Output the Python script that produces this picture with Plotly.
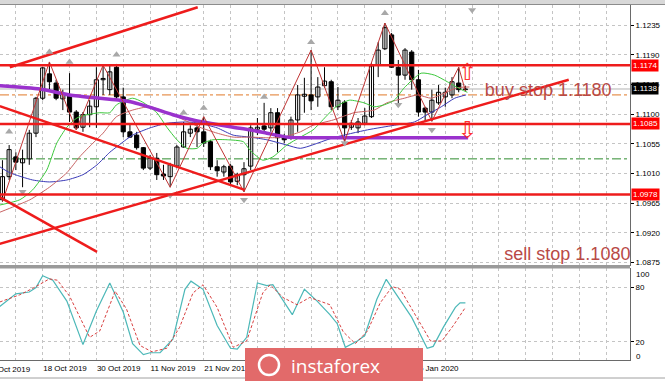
import plotly.graph_objects as go

# ---------------- data ----------------
bars = list(range(70))
opens = [1.0970, 1.1005, 1.1035, 1.1026, 1.1032, 1.1071, 1.1124, 1.1161, 1.1147, 1.1123,
         1.1129, 1.1103, 1.1080, 1.1099, 1.1111, 1.1152, 1.1137, 1.1171, 1.1126, 1.1073,
         1.1068, 1.1049, 1.1018, 1.1033, 1.1009, 1.1005, 1.1021, 1.1050, 1.1071, 1.1079,
         1.1073, 1.1058, 1.1020, 1.1012, 1.1021, 1.0998, 1.1008, 1.1021, 1.1077, 1.1082,
         1.1079, 1.1102, 1.1065, 1.1064, 1.1091, 1.1127, 1.1129, 1.1126, 1.1143, 1.1149,
         1.1111, 1.1118, 1.1080, 1.1079, 1.1086, 1.1096, 1.1174, 1.1199, 1.1220, 1.1171,
         1.1159, 1.1194, 1.1152, 1.1109, 1.1103, 1.1117, 1.1126, 1.1129, 1.1147, 1.1137]
highs = [1.1030, 1.1053, 1.1042, 1.1046, 1.1076, 1.1126, 1.1171, 1.1179, 1.1152, 1.1137,
         1.1162, 1.1106, 1.1103, 1.1121, 1.1171, 1.1174, 1.1174, 1.1176, 1.1140, 1.1086,
         1.1073, 1.1050, 1.1038, 1.1041, 1.1023, 1.1026, 1.1053, 1.1088, 1.1083, 1.1086,
         1.1096, 1.1061, 1.1030, 1.1023, 1.1024, 1.1011, 1.1027, 1.1083, 1.1094, 1.1117,
         1.1109, 1.1109, 1.1070, 1.1096, 1.1144, 1.1155, 1.1197, 1.1156, 1.1171, 1.1152,
         1.1141, 1.1121, 1.1091, 1.1094, 1.1109, 1.1177, 1.1209, 1.1238, 1.1223, 1.1182,
         1.1200, 1.1197, 1.1167, 1.1111, 1.1137, 1.1144, 1.1140, 1.1156, 1.1171, 1.1143]
lows = [1.0967, 1.1000, 1.1015, 1.0989, 1.1023, 1.1065, 1.1121, 1.1137, 1.1121, 1.1106,
        1.1088, 1.1076, 1.1073, 1.1080, 1.1079, 1.1129, 1.1129, 1.1121, 1.1065, 1.1064,
        1.1046, 1.1015, 1.1015, 1.1000, 1.1000, 1.0989, 1.1018, 1.1049, 1.1065, 1.1050,
        1.1050, 1.1015, 1.1005, 1.1005, 1.0992, 1.0992, 1.0982, 1.1015, 1.1068, 1.1071,
        1.1073, 1.1042, 1.1056, 1.1061, 1.1073, 1.1102, 1.1106, 1.1111, 1.1140, 1.1106,
        1.1106, 1.1058, 1.1076, 1.1071, 1.1083, 1.1094, 1.1156, 1.1197, 1.1170, 1.1111,
        1.1152, 1.1137, 1.1096, 1.1088, 1.1089, 1.1114, 1.1111, 1.1124, 1.1133, 1.1135]
closes = [1.1005, 1.1046, 1.1027, 1.1032, 1.1071, 1.1124, 1.1170, 1.1149, 1.1124, 1.1130,
          1.1103, 1.1079, 1.1099, 1.1112, 1.1152, 1.1154, 1.1164, 1.1126, 1.1073, 1.1065,
          1.1049, 1.1018, 1.1033, 1.1008, 1.1006, 1.1023, 1.1050, 1.1073, 1.1077, 1.1073,
          1.1056, 1.1020, 1.1014, 1.1020, 1.0997, 1.1008, 1.1017, 1.1079, 1.1080, 1.1077,
          1.1102, 1.1064, 1.1061, 1.1091, 1.1129, 1.1130, 1.1120, 1.1141, 1.1150, 1.1111,
          1.1121, 1.1079, 1.1086, 1.1088, 1.1097, 1.1173, 1.1197, 1.1231, 1.1171, 1.1159,
          1.1197, 1.1152, 1.1103, 1.1103, 1.1121, 1.1133, 1.1133, 1.1149, 1.1137, 1.1138]

# moving averages (bar position, price)
ma_purple_x = [-0.4, 5.6, 10.0, 14.5, 17.5, 19.4, 22.4, 25.4, 28.4, 30.9, 34.4, 36.9, 39.4, 42.4, 44.4, 51.8, 59.3, 69.4]
ma_purple_y = [1.1143, 1.1138, 1.1129, 1.1124, 1.1121, 1.1118, 1.1109, 1.1099, 1.1091, 1.1086, 1.1080, 1.1076, 1.1071, 1.1065, 1.1064, 1.1064, 1.1064, 1.1064]

ma_green_x = [-0.4, 2.6, 4.5, 6.6, 8.1, 9.6, 11.1, 12.6, 14.5, 16.0, 17.0, 19.4, 20.9, 23.0, 24.5, 26.0, 27.5, 29.0, 29.9,
              31.4, 33.5, 35.9, 36.9, 38.8, 40.3, 42.4, 44.4, 46.3, 48.2, 49.7, 51.7, 53.9, 55.4, 56.9, 58.4, 59.9,
              62.4, 64.4, 66.3, 68.4, 69.3]
ma_green_y = [1.0962, 1.0970, 1.0985, 1.1015, 1.1056, 1.1080, 1.1094, 1.1099, 1.1102, 1.1102, 1.1114, 1.1124, 1.1118,
              1.1102, 1.1080, 1.1061, 1.1048, 1.1048, 1.1056, 1.1061, 1.1061, 1.1058, 1.1045, 1.1030, 1.1035, 1.1053,
              1.1065, 1.1076, 1.1096, 1.1111, 1.1121, 1.1117, 1.1111, 1.1114, 1.1121, 1.1140, 1.1162, 1.1159, 1.1149,
              1.1137, 1.1133]

ma_brown_x = [-0.4, 1.8, 4.1, 7.0, 9.6, 11.5, 13.5, 15.0, 17.0, 19.4, 22.0, 26.0, 29.4, 32.0, 34.4, 36.9, 39.4, 41.8,
              44.4, 46.3, 49.3, 52.4, 55.4, 57.3, 59.9, 61.9, 63.9, 65.9, 67.8, 69.6]
ma_brown_y = [1.0951, 1.0960, 1.0970, 1.0989, 1.1011, 1.1035, 1.1056, 1.1071, 1.1096, 1.1106, 1.1111, 1.1096, 1.1080,
              1.1071, 1.1065, 1.1065, 1.1064, 1.1065, 1.1073, 1.1083, 1.1091, 1.1102, 1.1106, 1.1117, 1.1124, 1.1129,
              1.1124, 1.1132, 1.1140, 1.1141]

ma_blue_x = [-0.4, 1.1, 4.5, 7.0, 9.6, 12.0, 14.1, 16.0, 17.0, 19.4, 22.0, 24.5, 27.5, 29.4, 32.0, 34.4, 36.9, 39.4,
             42.4, 44.4, 49.3, 54.4, 58.4, 61.4, 63.3, 65.4, 67.4, 69.1]
ma_blue_y = [1.1020, 1.1011, 1.1000, 1.0997, 1.1000, 1.1008, 1.1023, 1.1042, 1.1050, 1.1068, 1.1079, 1.1086, 1.1088,
             1.1086, 1.1079, 1.1068, 1.1065, 1.1061, 1.1053, 1.1048, 1.1064, 1.1076, 1.1083, 1.1088, 1.1099, 1.1111,
             1.1124, 1.1129]

# zigzag vertices
zigzag_x = [0, 7, 11, 15, 25, 30, 36, 46, 51, 57, 64, 68, 69]
zigzag_y = [1.0967, 1.1179, 1.1076, 1.1174, 1.0989, 1.1096, 1.0982, 1.1197, 1.1058, 1.1238, 1.1089, 1.1171, 1.1135]

# fractal arrows
frac_up_x = [1, 7, 10, 17, 27, 30, 39, 46, 57]
frac_up_y = [1.1073, 1.1194, 1.1179, 1.1190, 1.1102, 1.1109, 1.1126, 1.1209, 1.1253]
frac_dn_x = [3, 25, 36, 51, 59, 64, 70]
frac_dn_y = [1.0982, 1.0977, 1.0970, 1.1056, 1.1114, 1.1076, 1.1258]

# levels and trend lines
levels_red = [1.1174, 1.1085, 1.0978]
current_price = 1.1138
level_orange = 1.1129
level_green = 1.1032
trend_lines = [  # (bar0, price0, bar1, price1)
    (1.1, 1.1171, 29.1, 1.1262),
    (-0.4, 1.1112, 36.1, 1.0985),
    (-0.4, 1.0903, 84.4, 1.1152),
    (-0.4, 1.0974, 14.1, 1.0891),
]
buy_text = "buy stop 1.1180"
sell_text = "sell stop 1.1080"
buy_pos = (71.9, 1.11345)
sell_pos = (74.8, 1.0886)
arrow_bar = 69.3
arrow_up_price = 1.1160
arrow_dn_price = 1.1072

# stochastic (bar position, value)
stoch_main_x = [-0.4, 2, 4, 5, 6, 7.5, 9.6, 12, 14, 16, 18, 19.4, 21, 22, 23.5, 25.4, 27.2, 28.1, 29.9, 32, 34, 35,
                36.4, 38, 39.4, 40.3, 43.2, 45, 46.9, 48.8, 49.9, 51.1, 52.9, 54, 55.8, 57.2, 61, 63.3, 64.2, 65.7,
                67.5, 68.2, 69]
stoch_main_y = [59, 73, 75, 80, 93, 88, 65, 17, 54, 85, 53, 18, 6, 8, 8, 23, 78, 87, 78, 38, 13, 12, 25, 85, 82, 83,
                50, 78, 65, 50, 40, 14, 21, 27, 67, 89, 47, 13, 15, 36, 58, 63, 63]
stoch_sig_x = [-0.4, 2.6, 4.5, 7.0, 8.2, 10.0, 13.0, 14.5, 16.8, 18.5, 20.5, 22.3, 24.5, 26.4, 28.4, 29.9, 32.0, 34.4,
               36.4, 38.8, 39.9, 41.8, 43.9, 45.8, 48.8, 50.8, 52.6, 54.4, 56.3, 58.1, 59.3, 61.5, 63.8, 65.5, 67.2, 69.0]
stoch_sig_y = [64, 72, 79, 89.5, 88, 70.5, 25, 32, 76, 56, 16, 9, 13, 36, 74, 83, 58, 14, 21, 74, 83, 69, 61, 69, 61,
               31, 18, 32, 63, 81, 78, 50, 21, 21, 38, 58]

price_ticks = [1.0875, 1.0920, 1.0965, 1.1010, 1.1055, 1.1100, 1.1145, 1.1190, 1.1235]
date_tick_bars = [6, 14, 22, 30, 38, 46, 54, 62]
date_tick_text = ["18 Oct 2019", "30 Oct 2019", "11 Nov 2019", "21 Nov 2019",
                  "3 Dec 2019", "13 Dec 2019", "25 Dec 2019", "6 Jan 2020"]

# ---------------- figure ----------------
X_RANGE = [-0.364, 93.53]
Y_RANGE = [1.08695, 1.12654]
GRID = "#c4c4c4"
FONT = "Liberation Sans"

fig = go.Figure()

# candle wicks
wx, wy = [], []
for i, h, l in zip(bars, highs, lows):
    wx += [i, i, None]
    wy += [l, h, None]
fig.add_trace(go.Scatter(x=wx, y=wy, mode="lines", line=dict(color="black", width=1),
                         hoverinfo="skip", xaxis="x", yaxis="y"))

bull = [i for i in bars if closes[i] >= opens[i]]
bear = [i for i in bars if closes[i] < opens[i]]
fig.add_trace(go.Bar(x=bull, base=[opens[i] for i in bull],
                     y=[max(closes[i] - opens[i], 0.00002) for i in bull], width=0.62,
                     marker=dict(color="white", line=dict(color="black", width=1)),
                     xaxis="x", yaxis="y", hoverinfo="skip"))
fig.add_trace(go.Bar(x=bear, base=[closes[i] for i in bear],
                     y=[opens[i] - closes[i] for i in bear], width=0.62,
                     marker=dict(color="black", line=dict(color="black", width=1)),
                     xaxis="x", yaxis="y", hoverinfo="skip"))

# moving averages
for xs, ys, col, w in [(ma_blue_x, ma_blue_y, "#3a3ab8", 1),
                       (ma_brown_x, ma_brown_y, "#c86464", 1),
                       (ma_green_x, ma_green_y, "#3cc83c", 1),
                       (ma_purple_x, ma_purple_y, "#9a32cd", 3.5)]:
    fig.add_trace(go.Scatter(x=xs, y=ys, mode="lines", line=dict(color=col, width=w, shape="spline", smoothing=0.6),
                             hoverinfo="skip", xaxis="x", yaxis="y"))

# zigzag
fig.add_trace(go.Scatter(x=zigzag_x, y=zigzag_y, mode="lines", line=dict(color="#c03434", width=1),
                         hoverinfo="skip", xaxis="x", yaxis="y"))

# trend lines
for b0, p0, b1, p1 in trend_lines:
    fig.add_trace(go.Scatter(x=[b0, b1], y=[p0, p1], mode="lines", line=dict(color="#ee1c1c", width=2.5),
                             hoverinfo="skip", xaxis="x", yaxis="y"))

# fractals
fig.add_trace(go.Scatter(x=frac_up_x, y=frac_up_y, mode="markers",
                         marker=dict(symbol="triangle-up", size=7, color="#a8a8a8"),
                         hoverinfo="skip", xaxis="x", yaxis="y"))
fig.add_trace(go.Scatter(x=frac_dn_x, y=frac_dn_y, mode="markers",
                         marker=dict(symbol="triangle-down", size=7, color="#a8a8a8"),
                         hoverinfo="skip", xaxis="x", yaxis="y"))

# buy / sell stop arrows and texts
fig.add_trace(go.Scatter(x=[arrow_bar, arrow_bar], y=[arrow_up_price, arrow_dn_price], mode="text",
                         text=["⇧", "⇩"], textfont=dict(color="#ff3030", size=23, family="DejaVu Sans"),
                         hoverinfo="skip", xaxis="x", yaxis="y"))
fig.add_trace(go.Scatter(x=[buy_pos[0], sell_pos[0]], y=[buy_pos[1], sell_pos[1]], mode="text",
                         text=[buy_text, sell_text], textposition="middle right", cliponaxis=True,
                         textfont=dict(color="#b94a46", size=18, family=FONT),
                         hoverinfo="skip", xaxis="x", yaxis="y"))

# stochastic
fig.add_trace(go.Scatter(x=stoch_main_x, y=stoch_main_y, mode="lines", line=dict(color="#4cb8b8", width=1.2),
                         hoverinfo="skip", xaxis="x2", yaxis="y2"))
fig.add_trace(go.Scatter(x=stoch_sig_x, y=stoch_sig_y, mode="lines",
                         line=dict(color="#d84040", width=1, dash="3px,2px"),
                         hoverinfo="skip", xaxis="x2", yaxis="y2"))

shapes = []
# reference dashed levels (behind the candles)
shapes.append(dict(type="line", xref="x", x0=X_RANGE[0], x1=X_RANGE[1], yref="y", y0=current_price, y1=current_price,
                   line=dict(color="#b4b4b4", width=1), layer="below"))
shapes.append(dict(type="line", xref="x", x0=X_RANGE[0], x1=X_RANGE[1], yref="y", y0=level_orange, y1=level_orange,
                   line=dict(color="#e07828", width=1, dash="dashdot"), layer="below"))
shapes.append(dict(type="line", xref="x", x0=X_RANGE[0], x1=X_RANGE[1], yref="y", y0=level_green, y1=level_green,
                   line=dict(color="#2e8b2e", width=1, dash="dashdot"), layer="below"))
for lv in levels_red:
    shapes.append(dict(type="line", xref="x", x0=X_RANGE[0], x1=X_RANGE[1], yref="y", y0=lv, y1=lv,
                       line=dict(color="#ee1c1c", width=2.5), layer="above"))


def py(pix):  # pixel row -> paper y (plot area spans rows 5..360)
    return (360 - pix) / 355.0


def px(pix):  # pixel column -> paper x (plot area spans columns 0..630)
    return pix / 630.0


# frame decorations
shapes.append(dict(type="rect", xref="paper", yref="paper", x0=px(0), x1=px(665), y0=py(4), y1=py(0),
                   fillcolor="#d8d8d8", line=dict(width=0), layer="above"))
shapes.append(dict(type="line", xref="paper", yref="paper", x0=px(0), x1=px(665), y0=py(4.5), y1=py(4.5),
                   line=dict(color="#8c8c8c", width=1), layer="above"))
shapes.append(dict(type="rect", xref="paper", yref="paper", x0=px(0), x1=px(630), y0=py(268.5), y1=py(265),
                   fillcolor="#9a9a9a", line=dict(width=0), layer="above"))
shapes.append(dict(type="line", xref="paper", yref="paper", x0=px(0), x1=px(665), y0=py(378), y1=py(378),
                   line=dict(color="#a0a0a0", width=1), layer="above"))
# watermark
shapes.append(dict(type="rect", xref="paper", yref="paper", x0=px(245), x1=px(423), y0=py(385), y1=py(348),
                   fillcolor="#e26a6a", line=dict(width=0), layer="above"))
shapes.append(dict(type="circle", xref="paper", yref="paper", x0=px(259), x1=px(279), y0=py(375), y1=py(355),
                   line=dict(color="white", width=2.5), layer="above"))

annotations = []
for lv, bg in [(1.1174, "#ff0000"), (1.1085, "#ff0000"), (1.0978, "#ff0000"), (current_price, "#000000")]:
    annotations.append(dict(xref="paper", x=1, xanchor="left", xshift=1, yref="y", y=lv, yanchor="middle",
                            text=f"{lv:.4f}", showarrow=False, bgcolor=bg, borderpad=1,
                            font=dict(color="white", size=8, family=FONT)))
annotations.append(dict(xref="paper", x=1, xanchor="left", xshift=4, yref="paper", y=py(274), yanchor="middle",
                        text="100", showarrow=False, font=dict(color="black", size=8, family=FONT)))
annotations.append(dict(xref="paper", x=1, xanchor="left", xshift=4, yref="paper", y=py(356), yanchor="middle",
                        text="0", showarrow=False, font=dict(color="black", size=8, family=FONT)))
annotations.append(dict(xref="paper", x=px(-11), xanchor="left", yref="paper", y=py(369), yanchor="middle",
                        text="8 Oct 2019", showarrow=False, font=dict(color="black", size=8, family=FONT)))
annotations.append(dict(xref="paper", x=px(289), xanchor="left", yref="paper", y=py(366), yanchor="middle",
                        text="instaforex", showarrow=False, font=dict(color="white", size=19, family="Open Sans")))

grid_vals = list(range(-2, 95, 4))
grid_text = [date_tick_text[date_tick_bars.index(v)] if v in date_tick_bars else "" for v in grid_vals]

fig.update_layout(
    width=665, height=381,
    margin=dict(l=0, r=35, t=5, b=21),
    paper_bgcolor="white", plot_bgcolor="white",
    showlegend=False, barmode="overlay",
    font=dict(family=FONT, size=8, color="black"),
    shapes=shapes, annotations=annotations,
    xaxis=dict(domain=[0, 1], range=X_RANGE, anchor="y", showticklabels=False, tickvals=grid_vals,
               showgrid=True, gridcolor=GRID, griddash="3px,3px", zeroline=False, showline=False, ticks=""),
    yaxis=dict(domain=[py(266), 1], range=Y_RANGE, anchor="x", side="right", tickvals=price_ticks,
               ticktext=[f"{v:.4f}" for v in price_ticks], ticks="outside", ticklen=3, tickcolor="black",
               tickfont=dict(size=8, family=FONT), showgrid=True, gridcolor=GRID, griddash="3px,3px",
               zeroline=False, showline=True, linecolor="#6a6a6a", linewidth=1),
    xaxis2=dict(domain=[0, 1], range=X_RANGE, anchor="y2", tickvals=grid_vals, ticktext=grid_text,
                ticklabelposition="outside right", tickangle=0, ticks="", tickfont=dict(size=8, family=FONT),
                showgrid=True, gridcolor=GRID, griddash="3px,3px", zeroline=False,
                showline=True, linecolor="#6a6a6a", linewidth=1),
    yaxis2=dict(domain=[0, py(268)], range=[0, 101.5], anchor="x2", side="right", tickvals=[20, 80],
                ticks="outside", ticklen=3, tickcolor="black", tickfont=dict(size=8, family=FONT),
                showgrid=True, gridcolor=GRID, griddash="3px,3px", zeroline=False,
                showline=True, linecolor="#6a6a6a", linewidth=1),
)

fig.write_html("out.html")
